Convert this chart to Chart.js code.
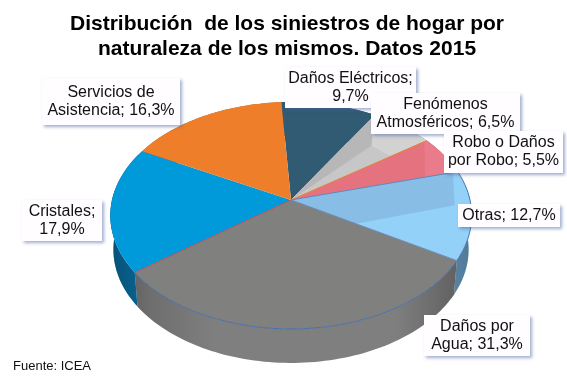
<!DOCTYPE html>
<html>
<head>
<meta charset="utf-8">
<script src="https://cdn.jsdelivr.net/npm/chart.js@4"></script>
<style>
html, body { margin: 0; padding: 0; background: #fff; }
canvas { display: block; }
</style>
</head>
<body>
<canvas id="siniestrosChart" width="567" height="379"></canvas>
<script>
const titleLines = ['Distribución  de los siniestros de hogar por', 'naturaleza de los mismos. Datos 2015'];
const sourceText = 'Fuente: ICEA';
const categories = ['Daños Eléctricos', 'Fenómenos Atmosféricos', 'Robo o Daños por Robo', 'Otras', 'Daños por Agua', 'Cristales', 'Servicios de Asistencia'];
const shares = [9.7, 6.5, 5.5, 12.7, 31.3, 17.9, 16.3];
const labelLines = [
    ['Daños Eléctricos;', '{v}'],
    ['Fenómenos', 'Atmosféricos; {v}'],
    ['Robo o Daños', 'por Robo; {v}'],
    ['Otras; {v}'],
    ['Daños por', 'Agua; {v}'],
    ['Cristales;', '{v}'],
    ['Servicios de', 'Asistencia; {v}']
];

// look of the slices, same order as categories
const topColors = ['#315B72', '#D2D2D2', '#EA7B8B', '#93D1F8', '#80807F', '#0099D9', '#EE7E2A'];
const wallColors = ['#24465A', '#A0A0A0', '#B85A68', '#6FA9D2', '#7F7F7F', '#0A78AE', '#B8601E'];
const rimColors = [null, null, null, '#4A78B0', '#4A6FA8', null, null];
const edgeColors = [null, null, '#E8833A', '#5F86BC', '#6E86B0', '#C0504D', null];
// darker facets on top of some slices, corners as [part of slice angle, part of radius]
const facets = [
    [],
    [
        { color: '#C7C7C7', corners: [[0, 0], [0.48, 0.71], [1, 0.72]] },
        { color: '#B7B7B7', corners: [[0, 0], [0, 1], [0.48, 0.71]] }
    ],
    [{ color: '#E4737F', corners: [[0, 0], [0, 0.98], [1, 0.8]] }],
    [{ color: '#88BEE6', corners: [[0, 0], [0, 0.97], [0.4, 0.91], [1, 0.41]] }],
    [], [], []
];

// label boxes, left / top / width / height
const labelBoxes = [
    [285, 67, 131, 41],
    [371, 93, 149, 41],
    [444, 131, 119, 42],
    [458, 204, 102, 23],
    [424, 315, 106, 41],
    [22, 200, 80, 41],
    [42, 78, 138, 47]
];

// perspective of the disc
const tilt = 0.622;
const lean = 0.1366;
const depth = 34;
const baseShrink = 0.983;
const pieShift = 4; // the pie sits a bit right of the title centre

function project(arc, angle, radius, drop, shrink) {
    const u = Math.cos(angle) * radius;
    const v = Math.sin(angle) * radius;
    const w = 1 - lean * v;
    return {
        x: arc.x + pieShift + arc.outerRadius * shrink * u / w,
        y: arc.y + drop + arc.outerRadius * tilt * v / w
    };
}

function sectorPath(ctx, arc, from, to, radius) {
    const centre = project(arc, 0, 0, 0, 1);
    ctx.beginPath();
    ctx.moveTo(centre.x, centre.y);
    const steps = Math.ceil((to - from) * 40);
    for (let i = 0; i <= steps; i++) {
        const p = project(arc, from + (to - from) * i / steps, radius, 0, 1);
        ctx.lineTo(p.x, p.y);
    }
    ctx.closePath();
}

function facetPath(ctx, arc, corners) {
    const span = arc.endAngle - arc.startAngle;
    ctx.beginPath();
    corners.forEach((c, n) => {
        const p = project(arc, arc.startAngle + span * c[0], c[1], 0, 1);
        if (n === 0) ctx.moveTo(p.x, p.y); else ctx.lineTo(p.x, p.y);
    });
    ctx.closePath();
}

function drawWall(ctx, arc, color) {
    const steps = Math.ceil((arc.endAngle - arc.startAngle) * 40);
    const grad = ctx.createLinearGradient(arc.x - arc.outerRadius, 0, arc.x + arc.outerRadius, 0);
    grad.addColorStop(0, '#00000055');
    grad.addColorStop(0.12, '#00000022');
    grad.addColorStop(0.3, '#00000000');
    grad.addColorStop(0.8, '#00000000');
    grad.addColorStop(1, '#00000044');
    ctx.beginPath();
    for (let i = 0; i <= steps; i++) {
        const p = project(arc, arc.startAngle + (arc.endAngle - arc.startAngle) * i / steps, 1, 0, 1);
        if (i === 0) ctx.moveTo(p.x, p.y); else ctx.lineTo(p.x, p.y);
    }
    for (let i = steps; i >= 0; i--) {
        const p = project(arc, arc.startAngle + (arc.endAngle - arc.startAngle) * i / steps, 1, depth, baseShrink);
        ctx.lineTo(p.x, p.y);
    }
    ctx.closePath();
    ctx.fillStyle = color;
    ctx.fill();
    ctx.fillStyle = grad;
    ctx.fill();
}

function drawLabels(ctx) {
    shares.forEach((share, i) => {
        const box = labelBoxes[i];
        const value = share.toFixed(1).replace('.', ',') + '%';
        ctx.save();
        ctx.shadowColor = 'rgba(70, 95, 160, 0.5)';
        ctx.shadowBlur = 3;
        ctx.shadowOffsetX = 2;
        ctx.shadowOffsetY = 2;
        ctx.fillStyle = '#FFFDFF';
        ctx.fillRect(box[0], box[1], box[2], box[3]);
        ctx.restore();
        ctx.fillStyle = '#111';
        ctx.font = '16px "Liberation Sans"';
        ctx.textAlign = 'center';
        ctx.textBaseline = 'middle';
        const lines = labelLines[i];
        lines.forEach((line, n) => {
            const y = box[1] + box[3] / 2 + (n - (lines.length - 1) / 2) * 18;
            ctx.fillText(line.replace('{v}', value), box[0] + box[2] / 2, y);
        });
    });
}

const pie3d = {
    id: 'pie3d',
    beforeDatasetsDraw(chart) {
        const ctx = chart.ctx;
        const arcs = chart.getDatasetMeta(0).data;
        ctx.save();
        arcs.forEach((arc, i) => drawWall(ctx, arc, wallColors[i]));
        arcs.forEach((arc, i) => {
            sectorPath(ctx, arc, arc.startAngle, arc.endAngle, 1);
            ctx.fillStyle = topColors[i];
            ctx.fill();
            facets[i].forEach(facet => {
                facetPath(ctx, arc, facet.corners);
                ctx.fillStyle = facet.color;
                ctx.fill();
            });
        });
        arcs.forEach((arc, i) => {
            ctx.lineWidth = 1;
            if (rimColors[i]) {
                ctx.strokeStyle = rimColors[i];
                ctx.beginPath();
                const steps = Math.ceil((arc.endAngle - arc.startAngle) * 40);
                for (let s = 0; s <= steps; s++) {
                    const p = project(arc, arc.startAngle + (arc.endAngle - arc.startAngle) * s / steps, 1, 0, 1);
                    if (s === 0) ctx.moveTo(p.x, p.y); else ctx.lineTo(p.x, p.y);
                }
                ctx.stroke();
            }
            if (edgeColors[i]) {
                const c = project(arc, 0, 0, 0, 1);
                const p = project(arc, arc.startAngle, 1, 0, 1);
                ctx.strokeStyle = edgeColors[i];
                ctx.beginPath();
                ctx.moveTo(c.x, c.y);
                ctx.lineTo(p.x, p.y);
                ctx.stroke();
            }
        });
        ctx.restore();
        return false;
    },
    afterDraw(chart) {
        const ctx = chart.ctx;
        ctx.save();
        drawLabels(ctx);
        ctx.fillStyle = '#111';
        ctx.font = '13px "Liberation Sans"';
        ctx.textAlign = 'left';
        ctx.textBaseline = 'middle';
        ctx.fillText(sourceText, 13, 366);
        ctx.restore();
    }
};

new Chart(document.getElementById('siniestrosChart').getContext('2d'), {
    type: 'pie',
    data: {
        labels: categories,
        datasets: [{ data: shares, backgroundColor: topColors, borderWidth: 0 }]
    },
    plugins: [pie3d],
    options: {
        responsive: false,
        animation: false,
        rotation: -3.5,
        radius: 179,
        layout: { padding: { left: 7, right: 0, top: 0, bottom: 41 } },
        plugins: {
            legend: { display: false },
            tooltip: { enabled: false },
            title: {
                display: true,
                text: titleLines,
                color: '#000',
                font: { family: '"Liberation Sans"', size: 21, weight: 'bold', lineHeight: 1.19 },
                padding: { top: 12, bottom: 0 }
            }
        }
    }
});
</script>
</body>
</html>
